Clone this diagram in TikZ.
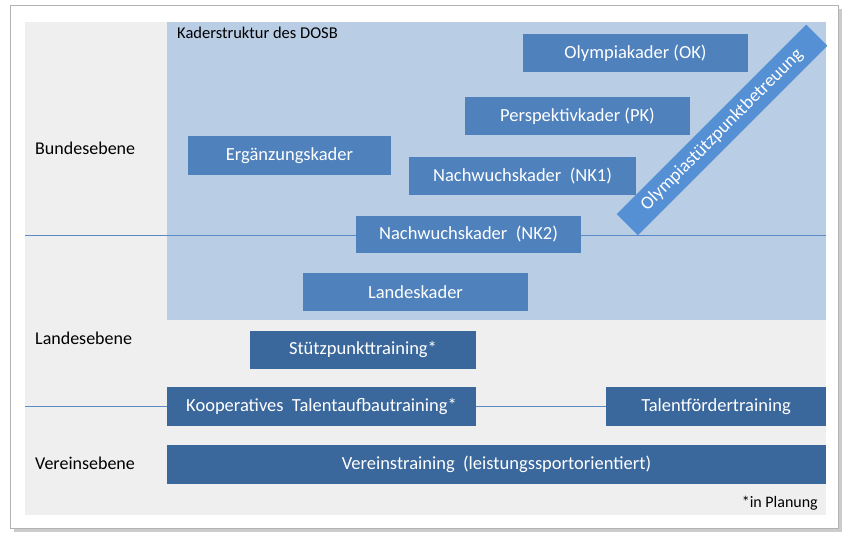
\documentclass[tikz,border=0pt]{standalone}
\usepackage{fontspec}
\setmainfont{Carlito}
\definecolor{bg}{HTML}{EFEFEF}
\definecolor{lb}{HTML}{B9CDE5}
\definecolor{mb}{HTML}{4F81BD}
\definecolor{db}{HTML}{3A679C}
\definecolor{rb}{HTML}{5590D4}
\definecolor{ln}{HTML}{5B8BC4}
\tikzset{
 kbox/.style={fill=mb,text=white,font=\fontsize{18.5}{20}\selectfont,inner sep=0pt},
 dbox/.style={fill=db,text=white,font=\fontsize{18.5}{20}\selectfont,inner sep=0pt},
 lvl/.style={anchor=west,font=\fontsize{18}{20}\selectfont,inner sep=0pt},
}
\begin{document}
\begin{tikzpicture}[x=1pt,y=-1pt]
\useasboundingbox (0,0) rectangle (851,543);
\fill[gray!40] (14,9) rectangle (842,532);
\fill[white,draw=gray!60] (10,5) rectangle (838,528);
\fill[bg] (25,22) rectangle (826,515);
\fill[lb] (167,22) rectangle (826,320);
\draw[ln,line width=1pt] (25,235) -- (826,235);
\draw[ln,line width=1pt] (25,406) -- (826,406);
\node[lvl,font=\fontsize{16.5}{18}\selectfont] (kds) at (177,33) {Kaderstruktur des DOSB};
\node[lvl] (be) at (35,148) {Bundesebene};
\node[lvl] (le) at (35,338) {Landesebene};
\node[lvl] (ve) at (35,463) {Vereinsebene};
\node[anchor=east,font=\fontsize{16}{18}\selectfont,inner sep=0pt] (ip) at (818,503) {*in Planung};
\node[kbox,minimum width=225,minimum height=38] (ok) at (635.5,53) {Olympiakader (OK)};
\node[kbox,minimum width=225,minimum height=38] (pk) at (577.5,116) {Perspektivkader (PK)};
\node[kbox,minimum width=203,minimum height=39] (ek) at (289.5,155.5) {Ergänzungskader};
\node[kbox,minimum width=227,minimum height=38] (nk1) at (522.5,176) {Nachwuchskader\ \ (NK1)};
\node[kbox,minimum width=225,minimum height=37] (nk2) at (468.5,234.5) {Nachwuchskader\ \ (NK2)};
\node[kbox,minimum width=225,minimum height=38] (lk) at (415.5,292) {Landeskader};
\node[dbox,minimum width=226,minimum height=38] (st) at (363,350) {Stützpunkttraining*};
\node[dbox,minimum width=309,minimum height=39] (kt) at (321.5,406.5) {Kooperatives\ \ Talentaufbautraining*};
\node[dbox,minimum width=220,minimum height=39] (tf) at (716,406.5) {Talentfördertraining};
\node[dbox,minimum width=659,minimum height=39] (vt) at (496.5,464.5) {Vereinstraining\ \ (leistungssportorientiert)};
\node[fill=rb,text=white,rotate=45,minimum width=268,minimum height=30,inner sep=0pt,font=\fontsize{18.5}{20}\selectfont] (ob) at (722,130) {Olympiastützpunktbetreuung};
\end{tikzpicture}
\end{document}
